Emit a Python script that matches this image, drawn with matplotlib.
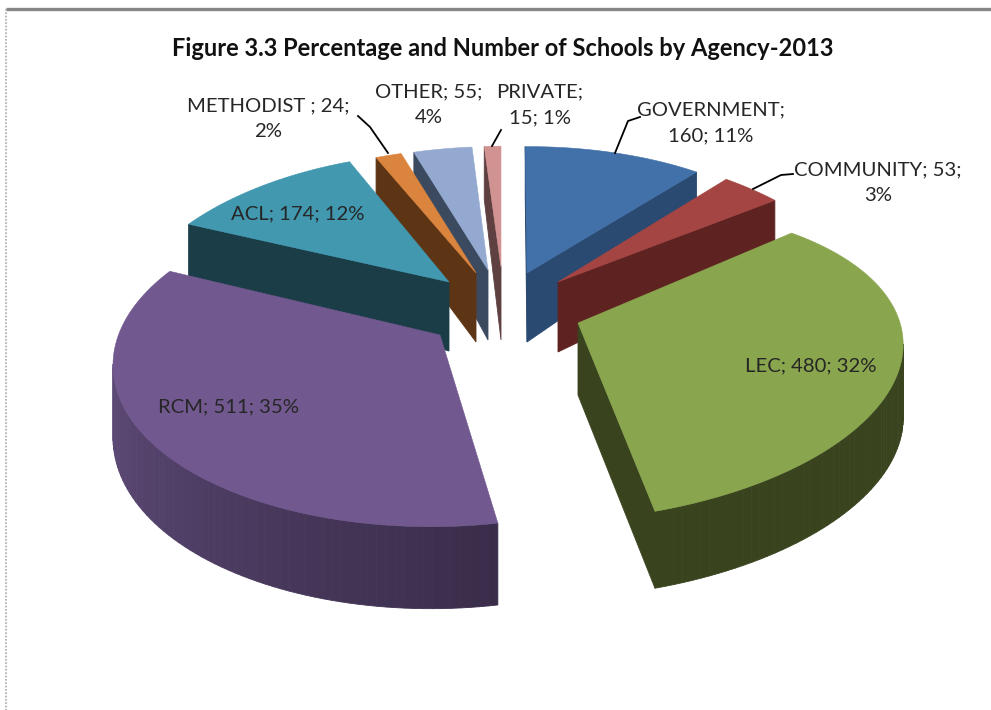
import numpy as np
import matplotlib
matplotlib.use("Agg")
import matplotlib.pyplot as plt

# Schools per agency, clockwise from 12 o'clock
agencies = ["GOVERNMENT", "COMMUNITY", "LEC", "RCM", "ACL", "METHODIST", "OTHER", "PRIVATE"]
schools = [160, 53, 480, 511, 174, 24, 55, 15]
percents = [11, 3, 32, 35, 12, 2, 4, 1]

# Colours: top face, dark wall, light end of the wall shading
top_col = ["#4270a8", "#a54543", "#89a54e", "#71588f", "#4198af", "#db843d", "#93a9cf", "#d19392"]
wall_dark = ["#2a4a72", "#5e2321", "#39441f", "#3a2d4a", "#1b3d48", "#5e3514", "#3c4a60", "#5f4040"]
wall_light = ["#2a4a72", "#5e2321", "#39441f", "#5c4976", "#1b3d48", "#5e3514", "#3c4a60", "#5f4040"]

# Where each exploded slice sits and how the perspective squeezes it
tip_x = [527, 558, 578, 440, 449, 476, 488, 501]
tip_y = [273, 282, 323, 335, 282, 273, 270, 267]
scale_x = [292, 312, 314, 321, 318, 303, 300, 314]
skew_x = [-2, 0, 0, 10, 0, 0, 0, 0]
scale_y = [139, 162, 146, 161, 165, 150, 148, 145]
skew_y = [-1.5, 8.6, -18.5, 1.4, -4.4, -3.6, -3.9, 0]
persp = [0.10, 0.22, 0.26, 0.16, 0.27, 0.20, 0.20, 0.20]
depth = [69, 70, 72, 70, 69, 69, 70, 73]
depth_fall = [20, 37, 5, 12, 33, 20, 20, 20]

# Back slices first so the front ones cover them
draw_order = [7, 6, 5, 0, 4, 3, 1, 2]


def project(i, X, Y):
    d = 1 + persp[i] * Y
    sx = tip_x[i] + (scale_x[i] * X + skew_x[i] * Y) / d
    sy = tip_y[i] + (skew_y[i] * X - scale_y[i] * Y) / d
    return sx, sy, depth[i] - depth_fall[i] * Y


def mix(c1, c2, t):
    a = np.array(matplotlib.colors.to_rgb(c1))
    b = np.array(matplotlib.colors.to_rgb(c2))
    return tuple(a + (b - a) * t)


fig = plt.figure(figsize=(9.91, 7.10), dpi=100)
ax = fig.add_axes([0, 0, 1, 1])
ax.set_xlim(0, 991)
ax.set_ylim(710, 0)
ax.axis("off")

# Sheet edge
ax.plot([6, 991], [9, 9], color="#858585", lw=2.4, solid_capstyle="butt")
ax.plot([6, 6], [9, 710], color="#a8a8a8", lw=1.2, ls=(0, (1, 1)))

angles = np.cumsum([0] + schools) / sum(schools) * 2 * np.pi

for i in draw_order:
    th = np.linspace(angles[i], angles[i + 1], 90)
    X = np.concatenate([[0], np.sin(th), [0]])
    Y = np.concatenate([[0], np.cos(th), [0]])
    sx, sy, dp = project(i, X, Y)

    # Walls: only the pieces that run right to left face the viewer
    for j in range(len(sx) - 1):
        if sx[j + 1] < sx[j]:
            if 0 < j < len(sx) - 2:
                col = mix(wall_dark[i], wall_light[i], min(1, (j - 1) / 60))
            else:
                col = wall_dark[i]
            ax.fill([sx[j], sx[j + 1], sx[j + 1], sx[j]],
                    [sy[j], sy[j + 1], sy[j + 1] + dp[j + 1], sy[j] + dp[j]],
                    color=col, lw=0.6, zorder=2)
    ax.fill(sx, sy, color=top_col[i], lw=0.4, zorder=2)

# Leader lines
ax.plot([615, 628, 640], [153, 121, 117], color="black", lw=1.3, zorder=3)
ax.plot([753, 781, 793], [189, 175, 174], color="black", lw=1.3, zorder=3)
ax.plot([388, 370, 358], [153, 127, 116], color="black", lw=1.3, zorder=3)
ax.plot([492, 501], [146, 130], color="black", lw=1.3, zorder=3)

plt.rcParams["font.family"] = ["Lato", "DejaVu Sans"]
txt = "#262626"
ax.text(503, 48, "Figure 3.3 Percentage and Number of Schools by Agency-2013",
        ha="center", va="center", fontsize=17.05, fontweight="bold", color="#111111")


def label(s, x, y):
    ax.text(x, y, s, ha="center", va="center", fontsize=14.6, color=txt,
            linespacing=1.62, zorder=4)


label(f"{agencies[0]};\n{schools[0]}; {percents[0]}%", 711, 123)
label(f"{agencies[1]}; {schools[1]};\n{percents[1]}%", 878, 183)
label(f"{agencies[2]}; {schools[2]}; {percents[2]}%", 811, 366)
label(f"{agencies[3]}; {schools[3]}; {percents[3]}%", 229, 407)
label(f"{agencies[4]}; {schools[4]}; {percents[4]}%", 298, 214)
label(f"{agencies[5]} ; {schools[5]};\n{percents[5]}%", 268, 119)
label(f"{agencies[6]}; {schools[6]};\n{percents[6]}%", 429, 105)
label(f"{agencies[7]};\n{schools[7]}; {percents[7]}%", 540, 105)

fig.savefig("out.png", dpi=100)
